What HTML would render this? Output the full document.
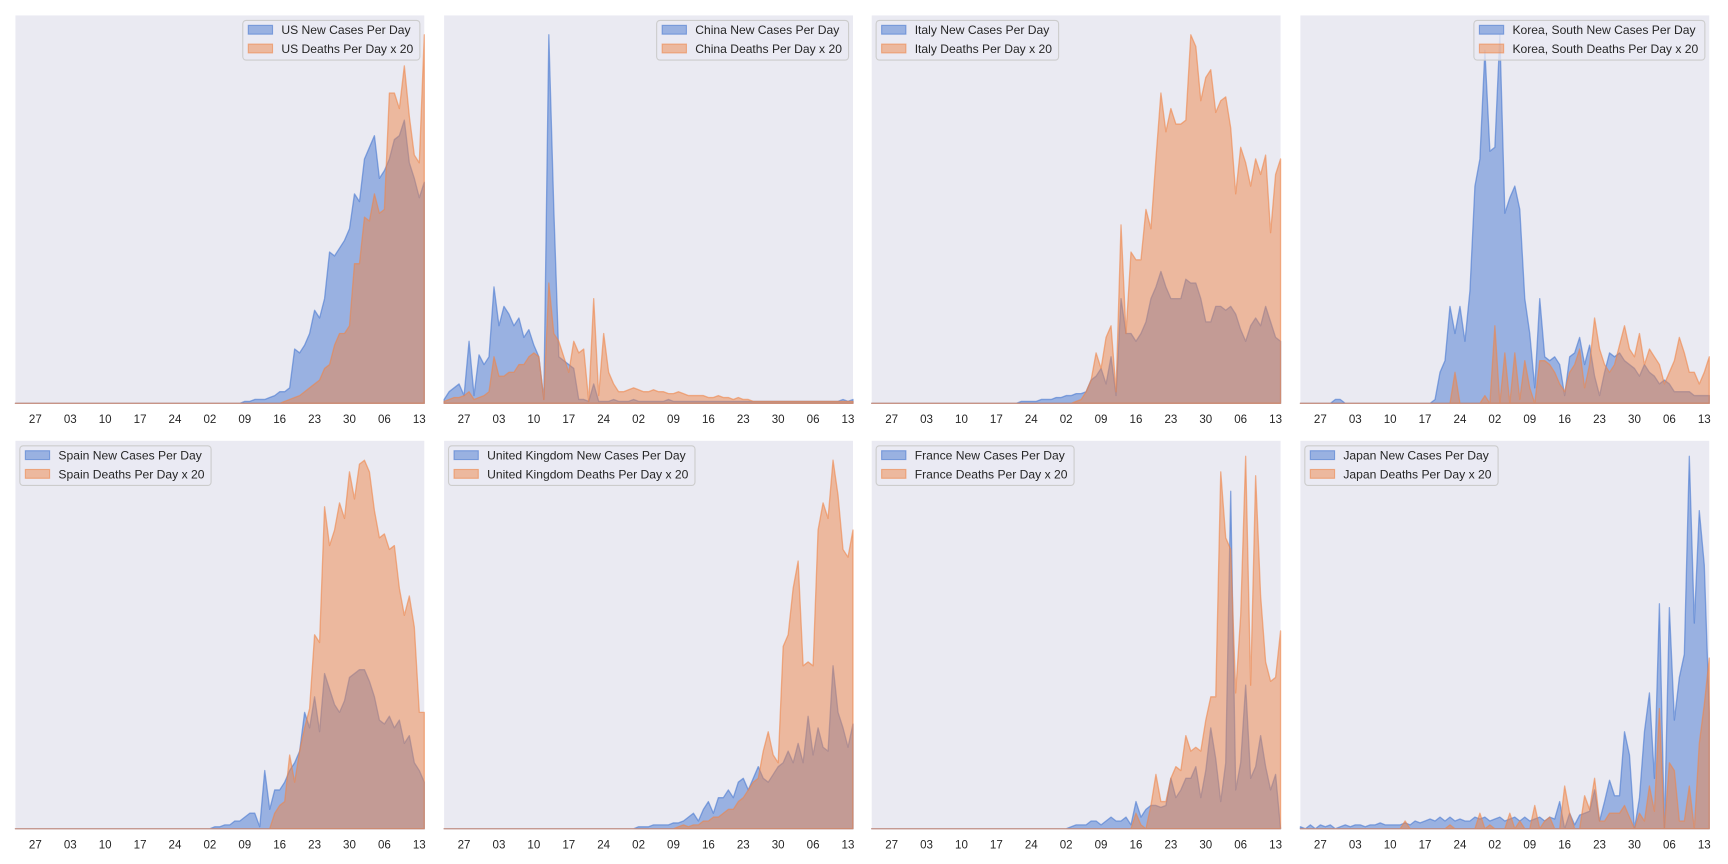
<!DOCTYPE html>
<html><head><meta charset="utf-8"><style>
html,body{margin:0;padding:0;background:#fff;}
svg{display:block;}
text{font-family:"Liberation Sans",Arial,sans-serif;}
</style></head>
<body>
<svg id="chart" width="1728" height="864" viewBox="0 0 1568 784" xmlns="http://www.w3.org/2000/svg"></svg>
<script>
const tickLabels = ['27','03','10','17','24','02','09','16','23','30','06','13'];
const tickDayIndex = [4,11,18,25,32,39,46,53,60,67,74,81];
const countryNames = ['US','China','Italy','Korea, South','Spain','United Kingdom','France','Japan'];
const legendSide = ['right','right','left','right','left','left','left','left'];

const usCases = [0,0,0,0,0,0,0,0,0,0, 0,0,0,0,0,0,0,0,0,0, 0,0,0,0,0,0,0,0,0,0, 0,0,0,0,0,0,0,0,0,0, 0,0,0,0,0,0,
0.5,0.5,1,1,1,1.5,2,3,3,4, 14,13,15,18,24,22,27,39,38,40,42,45,54,52,63,66,69,58,60, 63,68,69,73,62,58,53,57];
const usDeaths = [0,0,0,0,0,0,0,0,0,0, 0,0,0,0,0,0,0,0,0,0, 0,0,0,0,0,0,0,0,0,0, 0,0,0,0,0,0,0,0,0,0, 0,0,0,0,0,0,0,0,0,0, 0,0,0,0,
0.5,1,1.5,2,3,4, 5,6,9,10,15,18,18,20,36,36,48,47,54,49,50, 80,80,76,87,74,64,62,95];

const chinaCases = [1,3,4,5,2,16,2,12.5,10,12, 30,20,25,23,20,22,17,19,15,12, 1,95,50,12,11,10,9,1,1,0.5, 5,0.5,
0.5,0.5,1,0.5,0.5,0.5,1,0.5,0.5,0.5, 0.5,0.5,0.5,1,0.5,0.5,0.5,0.5,0.5,0.5, 0.5,0.5,0.5,0.5,0.5,0.5,0.5,0.5,0.5,0.5, 0.5,0.5,0.5,0.5,0.5,0.5,0.5,0.5,0.5,0.5, 0.5,0.5,0.5,0.5,0.5,0.5,0.5,0.5,1,0.5, 1];
const chinaDeaths = [0.5,1,1.5,1.5,2,3,1,1.5,2,3, 12,7,7,8,8,10,10,12,13,12, 1,31,18,16,12,8,16,13,14,0.5, 27,2,18,8,5,3,
3,3.5,4,3.5,3,3,3.5,3,3,2.5,2.5,3,2.5,2,2, 2,2,1.5,1.5,2,1.5,1.5,1,1.5,1,1,
0.5,0.5,0.5,0.5,0.5,0.5,0.5,0.5,0.5,0.5, 0.5,0.5,0.5,0.5,0.5,0.5,0.5,0.5,0.5,0.5, 0.5];

const italyCases = [0,0,0,0,0,0,0,0,0,0, 0,0,0,0,0,0,0,0,0,0, 0,0,0,0,0,0,0,0,0,0,
0.5,0.5,0.5,0.5,1,1,1,1.5,1.5,2,2,2.5,2.5,
3,6,7,9,5,12,2,27,18,18, 16,18,21,27,30,34,30,27,27,27, 32,31,31,27,21,21,25,25,24,25, 23,19,16,20,22,20,25,21,17,16];
const italyDeaths = [0,0,0,0,0,0,0,0,0,0, 0,0,0,0,0,0,0,0,0,0, 0,0,0,0,0,0,0,0,0,0, 0,0,0,0,0,0,0,0,0,0, 0,
0.5,1,3,6,13,9,17,20,3,46, 18,39,37,37,50,45,63,80,70,76, 72,72,73,95,92,78,84,86,75,78, 79,71,54,66,62,56,63,59,64,44, 59,63];

const koreaCases = [0,0,0,0,0,0,0,1,1,0, 0,0,0,0,0,0,0,0,0,0, 0,0,0,0,0,0,0,1,
8,11,25,18,25,16,29,56,63,91, 65,66,95,49,53,56,50,27,18,4, 27,12,11,
12,10,2,12,13,17,10,15,7,2, 8,13,12,13,11,10,9,7,10,8, 7,5,6,5,3,3,3,3,2,2, 2,2];
const koreaDeaths = [0,0,0,0,0,0,0,0,0,0, 0,0,0,0,0,0,0,0,0,0, 0,0,0,0,0,0,0,0,0,0, 0,
8,0,0,0,0,0,2,0,20,0, 13,0,13,1,11,4,0,11,11,10,
8,5,3,8,10,14,4,10,22,14, 10,8,10,15,20,14,12,18,10,14, 12,10,5,8,11,17,13,8,8,5, 8,12];

const spainCases = [0,0,0,0,0,0,0,0,0,0, 0,0,0,0,0,0,0,0,0,0, 0,0,0,0,0,0,0,0,0,0, 0,0,0,0,0,0,0,0,0,0,
0.5,0.5,1,1,2,2,3,4,4,0.5, 15,5,10,10,12,15,17,20,30,26, 34,25,40,36,32,30,33,39,40,41, 41,38,34,28,27,29,26,28,22,24, 17,15,12];
const spainDeaths = [0,0,0,0,0,0,0,0,0,0, 0,0,0,0,0,0,0,0,0,0, 0,0,0,0,0,0,0,0,0,0, 0,0,0,0,0,0,0,0,0,0, 0,0,0,0,0,0,0,0,0,0, 0,0,
4,6,7,19,12,20,26,31,50,48, 83,73,77,84,80,92,85,94,95,92, 82,75,76,72,73,62,55,60,52,30, 30];

const ukCases = [0,0,0,0,0,0,0,0,0,0, 0,0,0,0,0,0,0,0,0,0, 0,0,0,0,0,0,0,0,0,0, 0,0,0,0,0,0,0,0,0,
0.5,0.5,0.5,1,1,1,1,1.5,1.5,2,3,
4,2,5,7,4,8,8,10,8,12, 13,10,13,16,13,12,14,16,17,20, 17,22,17,29,19,26,21,20,42,30, 26,21,27];
const ukDeaths = [0,0,0,0,0,0,0,0,0,0, 0,0,0,0,0,0,0,0,0,0, 0,0,0,0,0,0,0,0,0,0, 0,0,0,0,0,0,0,0,0,0, 0,0,0,0,0,0,0,
0.5,1,0.5,1,1,2,2,3,3,4, 5,5,7,8,10,12,13,20,25,19, 17,47,50,62,69,42,43,42,77,84, 80,95,86,72,70,77];

const franceCases = [0,0,0,0,0,0,0,0,0,0, 0,0,0,0,0,0,0,0,0,0, 0,0,0,0,0,0,0,0,0,0, 0,0,0,0,0,0,0,0,0,0,
0.5,1,1,1,2,2,1,2,3,2,2,3,
1,7,3,5,6,6,5.5,6,13,8, 10,13,13,16,8,15,26,18,7,17, 87,10,17,37,13,16,24,16,10,14, 0];
const franceDeaths = [0,0,0,0,0,0,0,0,0,0, 0,0,0,0,0,0,0,0,0,0, 0,0,0,0,0,0,0,0,0,0, 0,0,0,0,0,0,0,0,0,0, 0,0,0,0,0,0,0,0,0,0, 0,0,
0,4,1,0,6,14,7,7,13,16, 15,24,20,21,20,28,34,34,92,75, 72,35,55,96,37,91,60,43,38,39, 51];

const japanCases = [0.5,0,1,0,1,0.5,1,0,0.5,1, 0.5,1,1,0.5,1,1,1.5,1,1,1, 1,1.5,1,2,1.5,2,2.5,2,3,2, 3,2,2.5,2,2,3,2.5,3,2,2.5, 3,2,2.5,3,2,3,2,2.5,3,2,3,2.5,
7,0,4,1,3.5,4,4.5,10,2,7, 12.5,8.5,8.5,25,19,0,8,25,35,13, 58,0,57,28,39,45,96,53,82,68, 30];
const japanDeaths = [0,0,0,0,0,0,0,0,0,0, 0,0,0,0,0,0,0,0,0,0, 0,2,0,0,0,0,0,0,0,0, 1,0,0,0,0,0,4,0,1,0, 0,0,4,0,2,0,0,6,0,2, 3,0,
0,11,4,0,0,8.5,5,13,2,2, 4,4,4,6,3,0,4,2,11,4.5, 31,0,17,15,2,2,11,0,22,32, 44];

const casesSeries = [usCases,chinaCases,italyCases,koreaCases,spainCases,ukCases,franceCases,japanCases];
const deathsSeries = [usDeaths,chinaDeaths,italyDeaths,koreaDeaths,spainDeaths,ukDeaths,franceDeaths,japanDeaths];

const NS = 'http://www.w3.org/2000/svg';
const svg = document.getElementById('chart');
const colX = [14,403,791,1180], rowY = [14,400], PW = 371, PH = 352, YMAX = 100;
const BLUE = '#4878d0', ORANGE = '#ee854a';

function mk(tag, attrs, parent){
  const e = document.createElementNS(NS, tag);
  for (const k in attrs) e.setAttribute(k, attrs[k]);
  parent.appendChild(e);
  return e;
}

countryNames.forEach((name, p) => {
  const x0 = colX[p % 4], y0 = rowY[Math.floor(p / 4)];
  const n = casesSeries[p].length;
  const xs = i => x0 + i * PW / (n - 1);
  const ys = v => y0 + PH - v / YMAX * PH;
  const slug = name.toLowerCase().replace(/[^a-z]+/g, '-').replace(/-+$/,'');

  const g = mk('g', {}, svg);
  
  

  const bg = mk('rect', {x:x0, y:y0, width:PW, height:PH, fill:'#eaeaf2'}, g);
  
  

  [[casesSeries[p], BLUE, 'cases'], [deathsSeries[p], ORANGE, 'deaths']].forEach(([arr, col, kind]) => {
    let d = 'M' + xs(0) + ',' + ys(0);
    arr.forEach((v, i) => { d += 'L' + xs(i).toFixed(2) + ',' + ys(v).toFixed(2); });
    d += 'L' + xs(arr.length - 1) + ',' + ys(0) + 'Z';
    const path = mk('path', {d:d, fill:col, 'fill-opacity':0.5, stroke:col, 'stroke-opacity':0.6, 'stroke-width':1.2, 'stroke-linejoin':'round'}, g);
    
    
  });

  const axis = mk('g', {}, g);
  
  
  tickLabels.forEach((lab, k) => {
    const t = mk('text', {x:xs(tickDayIndex[k]), y:y0 + PH + 18, 'text-anchor':'middle', 'font-size':10.5, fill:'#262626'}, axis);
    t.textContent = lab;
    
    
  });

  const lg = mk('g', {}, g);
  
  
  const box = mk('rect', {y:y0 + 4.5, height:36, rx:3, fill:'#eaeaf2', 'fill-opacity':0.8, stroke:'#cccccc', 'stroke-width':1}, lg);
  const labels = [name + ' New Cases Per Day', name + ' Deaths Per Day x 20'];
  const cols = [BLUE, ORANGE];
  const items = [];
  let maxW = 0;
  labels.forEach((lab, k) => {
    const cy = y0 + 13 + k * 17;
    const sw = mk('rect', {y:cy - 4, width:22, height:8, fill:cols[k], 'fill-opacity':0.5, stroke:cols[k], 'stroke-opacity':0.6}, lg);
    
    
    const t = mk('text', {y:cy + 4, 'font-size':11, fill:'#262626'}, lg);
    t.textContent = lab;
    
    
    maxW = Math.max(maxW, t.getComputedTextLength());
    items.push([sw, t]);
  });
  const bw = 35 + maxW + 6;
  const bx = legendSide[p] === 'right' ? x0 + PW - 4 - bw : x0 + 4;
  box.setAttribute('x', bx);
  box.setAttribute('width', bw);
  items.forEach(([sw, t]) => { sw.setAttribute('x', bx + 5); t.setAttribute('x', bx + 35); });
});
</script>
</body></html>
